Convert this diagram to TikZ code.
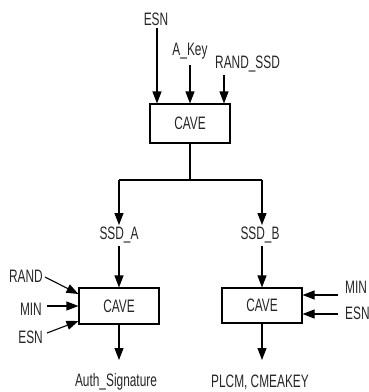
\documentclass[tikz,border=0pt]{standalone}
\usepackage{fontspec}
\setmainfont{Liberation Sans}[FakeStretch=0.66]
\usetikzlibrary{arrows.meta}
\tikzset{
  lbl/.style={inner sep=0pt, anchor=base, text=black!85, font=\fontsize{18}{20}\selectfont},
  cavebox/.style={draw, line width=1.1pt, minimum width=80pt, inner sep=0pt, text=black!85, font=\fontsize{18}{20}\selectfont},
  arr/.style={line width=1.1pt, -{Triangle[length=12pt,width=9pt]}},
  ln/.style={line width=1.1pt}
}
\begin{document}
\begin{tikzpicture}[x=1pt,y=-1pt]
\useasboundingbox (0,0) rectangle (369,392);
% top
\node[cavebox, minimum height=39pt] (cave1) at (190,123.5) {CAVE};
\node[lbl] (esn1) at (156,25) {ESN};
\node[lbl] (akey) at (190,55) {A\_Key};
\node[lbl, anchor=base west] (rssd) at (215,68) {RAND\_SSD};
\coordinate (e0) at (157,28);
\coordinate (k0) at (190,65);
\coordinate (r0) at (224,75);
\draw[arr] (e0) -- (e0 |- cave1.north);
\draw[arr] (k0) -- (k0 |- cave1.north);
\draw[arr] (r0) -- (r0 |- cave1.north);
% split
\coordinate (split) at (190,180);
\coordinate (la) at (119,180);
\coordinate (lb) at (262,180);
\draw[ln] (cave1.south) -- (split);
\draw[ln] (la) -- (lb);
\node[lbl] (ssda) at (119,239) {SSD\_A};
\node[lbl] (ssdb) at (260,239) {SSD\_B};
\draw[arr] (la) -- (119,225);
\draw[arr] (lb) -- (262,225);
% left CAVE
\node[cavebox, minimum height=36pt] (cave2) at (119,306) {CAVE};
\coordinate (a0) at (119,246);
\draw[arr] (a0) -- (cave2.north);
\node[lbl, anchor=base east] (rand) at (43,282) {RAND};
\node[lbl, anchor=base east] (min1) at (42,315) {MIN};
\node[lbl, anchor=base east] (esn2) at (43,343) {ESN};
\coordinate (rs) at (45,277);
\coordinate (ms) at (47,306);
\coordinate (es) at (47,333);
\draw[arr] (rs) -- (cave2.west |- 0,294);
\draw[arr] (ms) -- (cave2.west |- 0,306);
\draw[arr] (es) -- (cave2.west |- 0,321);
\coordinate (o1) at (119,360);
\draw[arr] (cave2.south) -- (o1);
\node[lbl] (auth) at (116,386) {Auth\_Signature};
% right CAVE
\node[cavebox, minimum height=35pt] (cave3) at (262,305.5) {CAVE};
\coordinate (b0) at (262,246);
\draw[arr] (b0) -- (cave3.north);
\node[lbl, anchor=base west] (min2) at (345,293.5) {MIN};
\node[lbl, anchor=base west] (esn3) at (345,319.5) {ESN};
\coordinate (m2) at (338,295);
\coordinate (e2) at (338,314);
\draw[arr] (m2) -- (m2 -| cave3.east);
\draw[arr] (e2) -- (e2 -| cave3.east);
\coordinate (o2) at (262,360);
\draw[arr] (cave3.south) -- (o2);
\node[lbl] (plcm) at (260,387) {PLCM, CMEAKEY};
\end{tikzpicture}
\end{document}
